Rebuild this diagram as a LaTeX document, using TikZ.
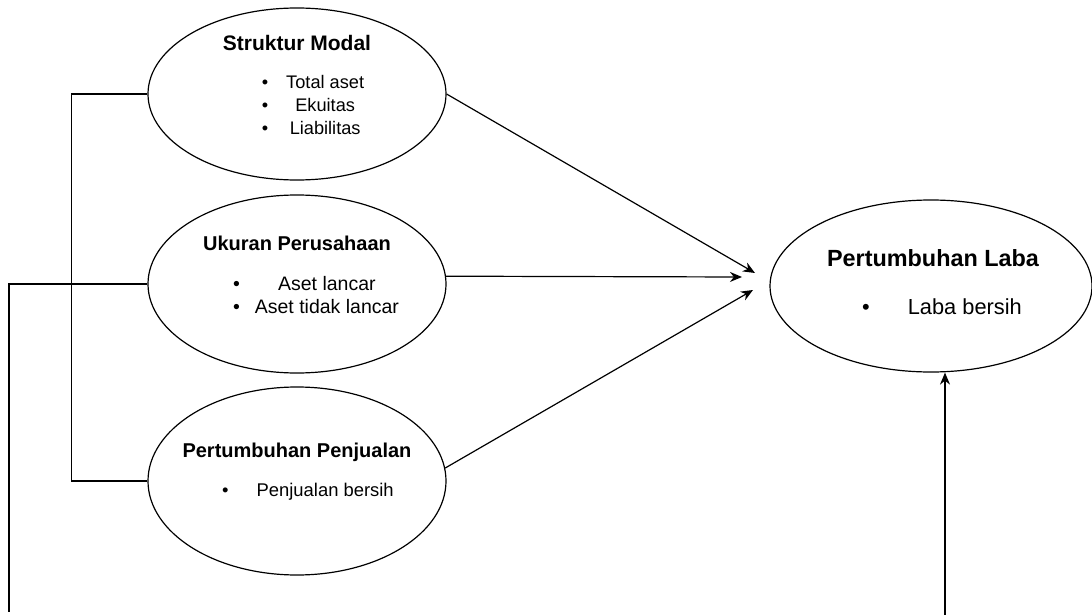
\documentclass[tikz,border=0pt]{standalone}
\usepackage{fontspec}
\setmainfont{Liberation Sans}
\usetikzlibrary{shapes.geometric}
\usetikzlibrary{arrows.meta}

\tikzset{
  var/.style={draw, ellipse, line width=1.2pt, inner sep=0pt},
  judul/.style={inner sep=0pt, font=\bfseries\fontsize{20}{24}\selectfont},
  daftar/.style={inner sep=0pt},
}

\begin{document}
\begin{tikzpicture}[x=1pt,y=-1pt,line width=1.2pt,>={Stealth[length=12pt,width=10pt]}]
\useasboundingbox (0,0) rectangle (1092,615);
% variabel X
\node[var, minimum width=298pt, minimum height=172pt] (sm) at (297,94) {};
\node[var, minimum width=298pt, minimum height=178pt] (up) at (297,284) {};
\node[var, minimum width=298pt, minimum height=188pt] (pp) at (297,481) {};
% variabel Y
\node[var, minimum width=322pt, minimum height=172pt] (pl) at (931,286) {};

\node[judul, font=\bfseries\fontsize{21}{25}\selectfont] (smjudul) at (297,43) {Struktur Modal};
\node[daftar, font=\fontsize{18.2}{23}\selectfont] (smisi) at (313,107)
  {\begin{tabular}{@{}c@{\hspace{18pt}}c@{}}\textbullet & Total aset\\ \textbullet & Ekuitas\\ \textbullet & Liabilitas\end{tabular}};

\node[judul] (upjudul) at (297,243) {Ukuran Perusahaan};
\node[daftar, font=\fontsize{19.5}{23}\selectfont] (upisi) at (316,297)
  {\begin{tabular}{@{}c@{\hspace{15pt}}c@{}}\textbullet & Aset lancar\\ \textbullet & Aset tidak lancar\end{tabular}};

\node[judul] (ppjudul) at (297,452) {Pertumbuhan Penjualan};
\node[daftar, font=\fontsize{18.4}{23}\selectfont] (ppisi) at (308,492)
  {\textbullet\hspace{28pt}Penjualan bersih};

\node[judul, font=\bfseries\fontsize{23.4}{28}\selectfont] (pljudul) at (933,258) {Pertumbuhan Laba};
\node[daftar, font=\fontsize{21.8}{26}\selectfont] (plisi) at (942,307)
  {\textbullet\hspace{38pt}Laba bersih};

% garis penghubung
\coordinate (kiri) at (9,612);
\coordinate (bawah) at (945,615);
\coordinate (t1) at (755,273);
\coordinate (t2) at (742,277);
\coordinate (t3) at (753,290);
\draw (sm.west) -- ++(-76,0) |- (pp.west);
\draw (up.west) -| (kiri);
\draw[->] (sm.east) -- (t1);
\draw[->] (up.3) -- (t2);
\draw[->] (pp.5) -- (t3);
\draw[->] (bawah) -- (bawah |- pl.south);
\end{tikzpicture}
\end{document}
